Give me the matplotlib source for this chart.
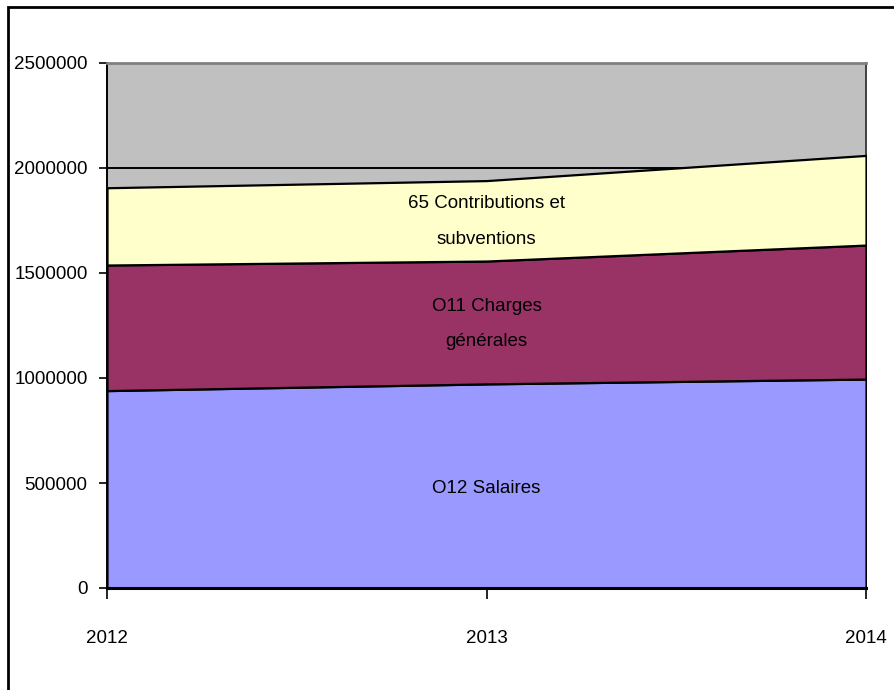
import matplotlib.pyplot as plt
from matplotlib.patches import Rectangle

years = [2012, 2013, 2014]
salaires = [940000, 972000, 995000]
charges = [598000, 585000, 638000]
contributions = [368000, 383000, 427000]
series_labels = ["O12 Salaires", "O11 Charges\ngénérales", "65 Contributions et\nsubventions"]
label_y = [476000, 1257000, 1745000]
yticks = [0, 500000, 1000000, 1500000, 2000000, 2500000]

colors = ["#9999FF", "#993366", "#FFFFCC"]

plt.rcParams['font.family'] = ['Liberation Sans Narrow', 'Liberation Sans', 'DejaVu Sans']

fig = plt.figure(figsize=(8.94, 6.90), dpi=100)
ax = fig.add_axes([107 / 894, 102 / 690, 759 / 894, 525 / 690])
ax.set_facecolor("#C0C0C0")

ax.stackplot(years, salaires, charges, contributions, colors=colors,
             edgecolor="black", linewidth=1.6, zorder=3)

ax.set_xlim(2012, 2014)
ax.set_ylim(0, 2500000)
ax.set_yticks(yticks)
ax.set_yticklabels([str(v) for v in yticks])
ax.set_xticks(years)
ax.set_xticklabels([str(y) for y in years])
ax.yaxis.grid(True, color="black", linewidth=1.4, zorder=1)
ax.set_axisbelow(True)

ax.tick_params(axis="y", direction="out", length=6, width=1.2, pad=8, labelsize=13.5)
ax.tick_params(axis="x", direction="out", length=8, width=1.2, pad=22, labelsize=13.5)

ax.spines["left"].set_color("black")
ax.spines["left"].set_linewidth(1.4)
ax.spines["bottom"].set_color("black")
ax.spines["bottom"].set_linewidth(2.2)
ax.spines["bottom"].set_zorder(5)
ax.spines["top"].set_color("#808080")
ax.spines["top"].set_linewidth(2)
ax.spines["right"].set_color("#404040")
ax.spines["right"].set_linewidth(1.4)

for txt, yv in zip(series_labels, label_y):
    ax.text(2013, yv, txt, ha="center", va="center", fontsize=13.5,
            linespacing=2.4, zorder=6)

# chart frame (runs off the right and bottom edges)
fig.patches.append(Rectangle((8 / 894, -0.05), 1.0, 1 - 7 / 690 + 0.05,
                             transform=fig.transFigure, fill=False,
                             edgecolor="black", linewidth=2, zorder=10))

fig.savefig("out.png", dpi=100)
